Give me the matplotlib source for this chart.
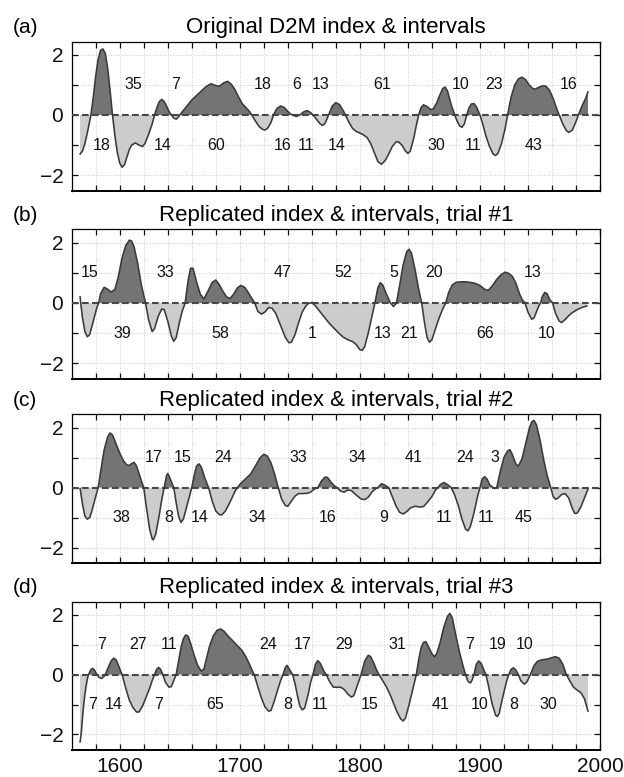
import numpy as np
import matplotlib.pyplot as plt

plt.rcParams['font.family'] = ['Liberation Sans', 'DejaVu Sans']

# (year, index) pairs for each series
series_a = [
    (1567, -1.30), (1569, -1.20), (1571, -0.95), (1573, -0.60), (1575, -0.20), (1576, 0),
    (1578, 0.60), (1580, 1.30), (1582, 1.85), (1584, 2.15), (1586, 2.20), (1588, 2.05),
    (1590, 1.55), (1592, 0.80), (1594, 0), (1596, -0.70), (1598, -1.25), (1600, -1.60),
    (1602, -1.74), (1604, -1.65), (1606, -1.40), (1608, -1.15), (1610, -1.00), (1613, -0.93),
    (1616, -1.00), (1619, -1.05), (1621, -0.95), (1624, -0.65), (1627, -0.30), (1629, 0),
    (1631, 0.25), (1633, 0.45), (1635, 0.52), (1637, 0.45), (1639, 0.30), (1641, 0.12),
    (1643, 0), (1645, -0.10), (1647, -0.14), (1649, -0.06), (1650, 0), (1653, 0.15),
    (1656, 0.30), (1660, 0.50), (1664, 0.65), (1668, 0.80), (1672, 0.95), (1676, 1.04),
    (1680, 0.98), (1683, 0.96), (1687, 1.08), (1690, 1.12), (1693, 1.02), (1696, 0.84),
    (1699, 0.60), (1702, 0.38), (1705, 0.25), (1708, 0.12), (1710, 0), (1713, -0.20),
    (1716, -0.38), (1719, -0.48), (1721, -0.50), (1723, -0.45), (1726, -0.25), (1728, 0),
    (1731, 0.22), (1734, 0.30), (1737, 0.25), (1740, 0.12), (1742, 0.04), (1744, 0),
    (1747, -0.05), (1750, 0), (1753, 0.10), (1756, 0.15), (1759, 0.08), (1761, 0),
    (1764, -0.15), (1767, -0.30), (1769, -0.35), (1771, -0.28), (1774, 0), (1777, 0.30),
    (1780, 0.41), (1783, 0.35), (1786, 0.15), (1788, 0), (1791, -0.25), (1794, -0.45),
    (1797, -0.55), (1800, -0.60), (1803, -0.66), (1806, -0.75), (1809, -0.95), (1812, -1.25),
    (1815, -1.55), (1818, -1.64), (1821, -1.52), (1824, -1.30), (1827, -1.05), (1830, -0.90),
    (1832, -0.89), (1835, -1.00), (1838, -1.20), (1840, -1.28), (1842, -1.20), (1845, -0.75),
    (1847, -0.35), (1849, 0), (1851, 0.25), (1853, 0.34), (1856, 0.28), (1859, 0.18),
    (1861, 0.20), (1864, 0.40), (1867, 0.70), (1869, 0.88), (1871, 0.93), (1873, 0.80),
    (1876, 0.35), (1879, 0), (1881, -0.20), (1883, -0.36), (1885, -0.41), (1887, -0.30),
    (1889, 0), (1891, 0.25), (1893, 0.37), (1895, 0.38), (1897, 0.28), (1900, 0),
    (1902, -0.25), (1905, -0.70), (1908, -1.05), (1911, -1.30), (1913, -1.35), (1915, -1.28),
    (1918, -0.95), (1921, -0.45), (1923, 0), (1926, 0.60), (1929, 1.00), (1932, 1.20),
    (1935, 1.26), (1938, 1.18), (1941, 1.00), (1944, 0.88), (1946, 0.86), (1949, 0.92),
    (1952, 0.97), (1955, 0.96), (1958, 0.82), (1961, 0.55), (1964, 0.20), (1966, 0),
    (1969, -0.30), (1972, -0.52), (1974, -0.58), (1977, -0.50), (1980, -0.22), (1982, 0),
    (1985, 0.30), (1988, 0.55), (1990, 0.77),
]

series_b = [
    (1567, 0.20), (1567.5, 0), (1569, -0.50), (1571, -0.95), (1573, -1.12), (1575, -1.05),
    (1577, -0.75), (1579, -0.45), (1581, -0.15), (1582.5, 0), (1584, 0.30), (1587, 0.52),
    (1590, 0.45), (1593, 0.36), (1596, 0.45), (1599, 0.90), (1602, 1.50), (1605, 1.90),
    (1608, 2.08), (1610, 2.05), (1612, 1.85), (1615, 1.30), (1618, 0.60), (1621.5, 0),
    (1624, -0.55), (1627, -0.95), (1629, -0.85), (1632, -0.45), (1635, -0.20), (1637, -0.22),
    (1640, -0.60), (1643, -1.10), (1645, -1.27), (1647, -1.15), (1650, -0.60), (1652, -0.28),
    (1654.5, 0), (1657, 0.75), (1659, 1.15), (1661, 1.15), (1664, 0.70), (1667, 0.30),
    (1670, 0.13), (1673, 0.35), (1677, 0.68), (1680, 0.76), (1683, 0.60), (1686, 0.38),
    (1689, 0.20), (1692, 0.15), (1695, 0.30), (1698, 0.50), (1701, 0.58), (1704, 0.52),
    (1707, 0.35), (1710, 0.15), (1712.5, 0), (1715, -0.28), (1718, -0.37), (1721, -0.30),
    (1724, -0.15), (1727, -0.18), (1730, -0.35), (1734, -0.75), (1738, -1.15), (1741, -1.32),
    (1743, -1.30), (1746, -1.05), (1749, -0.65), (1752, -0.30), (1755, -0.10), (1757, -0.02),
    (1759.5, 0), (1760, 0.02), (1760.5, 0), (1763, -0.10), (1766, -0.25), (1770, -0.45),
    (1774, -0.65), (1778, -0.82), (1782, -0.98), (1786, -1.13), (1790, -1.22), (1794, -1.28),
    (1797, -1.38), (1800, -1.55), (1802, -1.57), (1804, -1.45), (1807, -1.00), (1810, -0.45),
    (1812.5, 0), (1815, 0.50), (1817, 0.67), (1819, 0.60), (1822, 0.30), (1825.5, 0),
    (1828, -0.12), (1830.5, 0), (1833, 0.55), (1836, 1.25), (1839, 1.70), (1841, 1.78),
    (1843, 1.65), (1846, 1.10), (1849, 0.45), (1851.5, 0), (1854, -0.70), (1856, -1.15),
    (1858, -1.30), (1860, -1.22), (1863, -0.85), (1866, -0.50), (1869, -0.20), (1871.5, 0),
    (1874, 0.35), (1877, 0.60), (1880, 0.68), (1884, 0.70), (1888, 0.70), (1892, 0.68),
    (1896, 0.65), (1900, 0.58), (1904, 0.45), (1907, 0.42), (1910, 0.55), (1914, 0.78),
    (1918, 0.95), (1921, 1.02), (1924, 0.98), (1927, 0.88), (1930, 0.65), (1933, 0.30),
    (1935, 0.12), (1937.5, 0), (1940, -0.30), (1943, -0.54), (1945, -0.50), (1947, -0.30),
    (1949, -0.10), (1950.5, 0), (1952, 0.22), (1954, 0.35), (1956, 0.30), (1958, 0.12),
    (1960.5, 0), (1963, -0.35), (1966, -0.60), (1968, -0.65), (1971, -0.55), (1974, -0.42),
    (1977, -0.32), (1981, -0.22), (1985, -0.15), (1989, -0.10),
]

series_c = [
    (1567, -0.03), (1569, -0.55), (1571, -0.95), (1573, -1.05), (1575, -1.00), (1577, -0.75),
    (1580, -0.30), (1582, 0), (1584, 0.50), (1587, 1.25), (1590, 1.70), (1592, 1.82),
    (1594, 1.75), (1597, 1.45), (1600, 1.15), (1603, 0.90), (1606, 0.75), (1608, 0.74),
    (1610, 0.80), (1612, 0.84), (1614, 0.72), (1617, 0.35), (1620, 0), (1622, -0.60),
    (1625, -1.40), (1627, -1.70), (1628, -1.74), (1630, -1.55), (1633, -0.90), (1635, -0.40),
    (1637, 0), (1639, 0.40), (1640, 0.47), (1642, 0.30), (1645, 0), (1647, -0.50),
    (1649, -0.95), (1651, -1.16), (1653, -1.05), (1656, -0.60), (1658, -0.30), (1660, 0),
    (1662, 0.40), (1664, 0.72), (1666, 0.79), (1668, 0.68), (1671, 0.30), (1674, 0),
    (1677, -0.45), (1680, -0.78), (1683, -0.90), (1685, -0.91), (1688, -0.78), (1691, -0.55),
    (1694, -0.30), (1696, -0.12), (1698, 0), (1701, 0.15), (1705, 0.30), (1709, 0.45),
    (1713, 0.72), (1717, 1.00), (1720, 1.11), (1723, 1.05), (1726, 0.82), (1729, 0.45),
    (1732, 0), (1735, -0.40), (1738, -0.60), (1740, -0.62), (1743, -0.45), (1746, -0.28),
    (1749, -0.20), (1752, -0.20), (1756, -0.19), (1759, -0.15), (1762, -0.05), (1765, 0),
    (1768, 0.22), (1771, 0.35), (1773, 0.34), (1776, 0.18), (1779, 0.05), (1781, 0),
    (1784, -0.12), (1787, -0.15), (1790, -0.08), (1793, -0.10), (1797, -0.25), (1801, -0.38),
    (1804, -0.40), (1807, -0.32), (1810, -0.15), (1813, -0.04), (1815, 0), (1818, 0.13),
    (1821, 0.08), (1824, 0), (1827, -0.30), (1830, -0.60), (1833, -0.82), (1836, -0.88),
    (1839, -0.80), (1842, -0.68), (1846, -0.62), (1850, -0.65), (1853, -0.63), (1856, -0.50),
    (1860, -0.30), (1863, -0.08), (1865, 0), (1867, 0.10), (1870, 0.17), (1873, 0.10),
    (1876, 0), (1879, -0.25), (1882, -0.60), (1885, -1.05), (1888, -1.38), (1890, -1.44),
    (1892, -1.30), (1895, -0.85), (1898, -0.30), (1900, 0), (1902, 0.30), (1904, 0.36),
    (1906, 0.28), (1908, 0.10), (1911, 0), (1912.5, -0.03), (1914, 0), (1917, 0.55),
    (1920, 1.00), (1923, 1.22), (1925, 1.26), (1927, 1.10), (1930, 0.78), (1932, 0.72),
    (1935, 0.95), (1938, 1.45), (1941, 1.95), (1943, 2.18), (1945, 2.24), (1947, 2.10),
    (1950, 1.60), (1953, 0.95), (1956, 0.40), (1959, 0), (1961, -0.30), (1963, -0.39),
    (1965, -0.35), (1968, -0.23), (1971, -0.20), (1974, -0.35), (1977, -0.70), (1979, -0.86),
    (1981, -0.85), (1984, -0.65), (1987, -0.35), (1990, -0.05),
]

series_d = [
    (1567, -2.25), (1568, -1.95), (1569, -1.45), (1570, -1.00), (1571, -0.65), (1572, -0.38),
    (1573, -0.15), (1574, 0), (1576, 0.17), (1577.5, 0.21), (1579, 0.15), (1581, 0),
    (1583, -0.10), (1585, -0.13), (1587, -0.05), (1588, 0), (1590, 0.20), (1593, 0.47),
    (1595, 0.55), (1597, 0.50), (1600, 0.20), (1602, 0), (1605, -0.45), (1608, -0.85),
    (1611, -1.10), (1614, -1.25), (1616, -1.25), (1619, -1.05), (1622, -0.75), (1625, -0.45),
    (1627, -0.20), (1629, 0), (1631, 0.20), (1632.5, 0.24), (1634, 0.18), (1636, 0),
    (1638, -0.25), (1641, -0.42), (1643, -0.40), (1645, -0.20), (1647, 0), (1649, 0.45),
    (1651, 0.90), (1653, 1.20), (1655, 1.33), (1657, 1.28), (1659, 1.05), (1662, 0.65),
    (1665, 0.30), (1668, 0.12), (1670, 0.18), (1672, 0.50), (1675, 0.98), (1678, 1.30),
    (1681, 1.48), (1684, 1.53), (1687, 1.45), (1690, 1.30), (1693, 1.18), (1696, 1.05),
    (1699, 0.93), (1702, 0.80), (1705, 0.60), (1708, 0.35), (1710, 0.17), (1712, 0),
    (1715, -0.40), (1718, -0.78), (1721, -1.08), (1724, -1.22), (1726, -1.20), (1729, -0.85),
    (1732, -0.45), (1734, -0.20), (1736, 0), (1738, 0.25), (1739.5, 0.31), (1741, 0.20),
    (1744, 0), (1746, -0.30), (1748, -0.70), (1750, -1.05), (1752, -1.18), (1754, -1.12),
    (1757, -0.65), (1759, -0.25), (1761, 0), (1763, 0.35), (1765, 0.47), (1767, 0.38),
    (1770, 0.12), (1772, 0), (1775, -0.25), (1778, -0.42), (1781, -0.42), (1784, -0.42),
    (1787, -0.50), (1790, -0.65), (1793, -0.75), (1795, -0.70), (1798, -0.35), (1801, 0),
    (1804, 0.45), (1807, 0.65), (1809, 0.60), (1812, 0.35), (1814, 0.15), (1816, 0),
    (1819, -0.20), (1822, -0.40), (1825, -0.65), (1828, -0.95), (1831, -1.25), (1834, -1.48),
    (1836, -1.55), (1838, -1.45), (1841, -1.00), (1844, -0.50), (1847, 0), (1849, 0.50),
    (1851, 0.90), (1853, 1.08), (1855, 1.10), (1857, 0.95), (1860, 0.70), (1862, 0.60),
    (1864, 0.70), (1867, 1.10), (1870, 1.60), (1873, 1.95), (1875, 2.05), (1877, 1.90),
    (1880, 1.30), (1883, 0.75), (1886, 0.28), (1888, 0), (1890, -0.22), (1892, -0.28),
    (1893.5, -0.18), (1895, 0), (1897, 0.35), (1899, 0.46), (1901, 0.38), (1903, 0.18),
    (1905, 0), (1907, -0.35), (1910, -0.95), (1913, -1.35), (1914.5, -1.40), (1916, -1.30),
    (1919, -0.75), (1922, -0.25), (1924, 0), (1926, 0.18), (1928, 0.23), (1930, 0.15),
    (1932, 0), (1934, -0.20), (1937, -0.32), (1939, -0.25), (1942, 0), (1945, 0.30),
    (1948, 0.45), (1952, 0.50), (1956, 0.52), (1960, 0.57), (1963, 0.60), (1966, 0.55),
    (1969, 0.35), (1972, 0), (1975, -0.22), (1978, -0.42), (1981, -0.52), (1984, -0.60),
    (1987, -0.80), (1990, -1.22),
]

# interval lengths between sign changes, starting at the first crossing
start_a, first_pos_a = 1576, True
intervals_a = [18, 35, 14, 7, 60, 18, 16, 6, 11, 13, 14, 61, 30, 10, 11, 23, 43, 16]
start_b, first_pos_b = 1567.5, False
intervals_b = [15, 39, 33, 58, 47, 1, 52, 13, 5, 21, 20, 66, 13, 10]
start_c, first_pos_c = 1582, True
intervals_c = [38, 17, 8, 15, 14, 24, 34, 33, 16, 34, 9, 41, 11, 24, 11, 3, 45]
start_d, first_pos_d = 1574, True
intervals_d = [7, 7, 14, 27, 7, 11, 65, 24, 8, 17, 11, 29, 15, 31, 41, 7, 10, 19, 8, 10, 30]

panel_tags = ['(a)', '(b)', '(c)', '(d)']
titles = ['Original D2M index & intervals',
          'Replicated index & intervals, trial #1',
          'Replicated index & intervals, trial #2',
          'Replicated index & intervals, trial #3']

panels = [
    (series_a, start_a, first_pos_a, intervals_a),
    (series_b, start_b, first_pos_b, intervals_b),
    (series_c, start_c, first_pos_c, intervals_c),
    (series_d, start_d, first_pos_d, intervals_d),
]

W, H = 624, 777
fig = plt.figure(figsize=(W / 100, H / 100), dpi=100)

# axes boxes in pixels: (top, bottom)
boxes = [(41.7, 190.7), (229.3, 379.0), (414.3, 563.3), (601.7, 750.0)]
left_px, right_px = 71.7, 600.0

for i, ((pts, start, pos, intervals), (top, bot)) in enumerate(zip(panels, boxes)):
    ax = fig.add_axes([left_px / W, 1 - bot / H, (right_px - left_px) / W, (bot - top) / H])
    yr = np.array([p[0] for p in pts], dtype=float)
    val = np.array([p[1] for p in pts], dtype=float)

    ax.fill_between(yr, val, 0, where=val >= 0, interpolate=True,
                    color='#747474', lw=0, zorder=2)
    ax.fill_between(yr, val, 0, where=val <= 0, interpolate=True,
                    color='#cccccc', lw=0, zorder=2)
    ax.plot(yr, val, color='#3a3a3a', lw=1.15, zorder=4)
    ax.axhline(0, color='#474747', lw=1.5, ls=(0, (3.2, 1.6)), zorder=3)

    # interval labels: positive spans below, negative spans above
    edge = start
    for n in intervals:
        ax.text(edge + n / 2, -1 if pos else 1, str(n), ha='center', va='center',
                fontsize=11.5, color='#111111', zorder=5)
        edge += n
        pos = not pos

    ax.set_xlim(1560, 2000)
    ax.set_ylim(-2.52, 2.44)
    ax.set_xticks(np.arange(1600, 2001, 100))
    ax.set_xticks(np.arange(1580, 2000, 20), minor=True)
    ax.set_yticks([-2, -1, 0, 1, 2])
    ax.set_yticklabels(['\u22122', '', '0', '', '2'])
    if i < 3:
        ax.set_xticklabels([])
    ax.tick_params(which='both', direction='in', top=True, right=True,
                   length=4.5, width=0.9, labelsize=15, pad=6, colors='#111111')
    ax.tick_params(axis='x', pad=5)
    ax.grid(True, which='both', linestyle=':', color='#cdcdcd', lw=0.7)
    ax.set_axisbelow(True)
    for side in ['left', 'right', 'top']:
        ax.spines[side].set_linewidth(0.9)
    ax.spines['bottom'].set_linewidth(1.4)

    ax.text(0.5, 1.056, titles[i], transform=ax.transAxes, ha='center',
            va='baseline', fontsize=16)
    ax.text((12.7 - left_px) / (right_px - left_px), 1.056, panel_tags[i],
            transform=ax.transAxes, ha='left', va='baseline', fontsize=15)

fig.savefig('out.png', dpi=100)
